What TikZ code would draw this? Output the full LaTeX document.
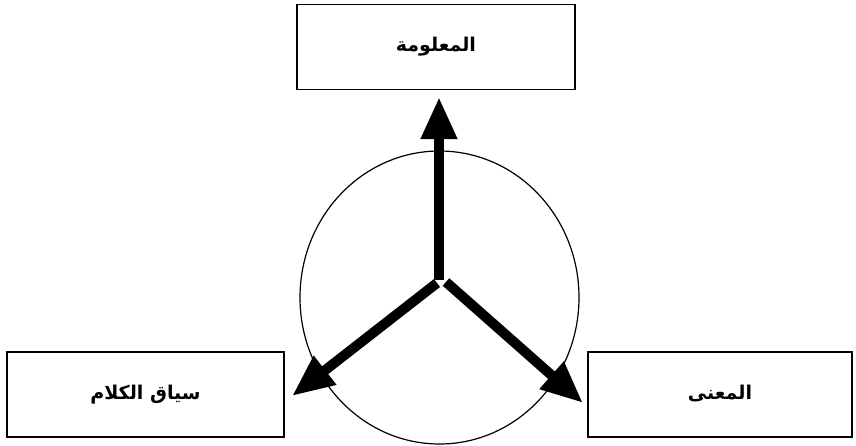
\documentclass[tikz,border=0pt]{standalone}
\usepackage{fontspec}
\TeXXeTstate=1
\newfontfamily\arabicfont[Script=Arabic]{DejaVu Sans}
\usetikzlibrary{arrows.meta}
\begin{document}
\begin{tikzpicture}[x=1pt,y=-1pt,
  labelbox/.style={draw, line width=1.8pt, minimum width=#1, minimum height=85pt, inner sep=0pt, font=\arabicfont\bfseries\fontsize{19}{22}\selectfont},
  bigarrow/.style={line width=10pt, -{Triangle[length=42pt,width=34pt]}}]
\useasboundingbox (0,0) rectangle (856,445);
\fill[white] (0,0) rectangle (856,445);
\node[labelbox=278pt] (info) at (436,47) {\raisebox{5pt}{\beginR المعلومة\endR}};
\node[labelbox=277pt] (ctx) at (145.5,394.5) {\raisebox{5pt}{\beginR سياق الكلام\endR}};
\node[labelbox=264pt] (mean) at (720,394.5) {\raisebox{5pt}{\beginR المعنى\endR}};
\draw[line width=1.2pt] (439.5,297.5) ellipse [x radius=139.5pt, y radius=146.5pt];
\coordinate (hubU) at (439,280);
\coordinate (hubL) at (437,283);
\coordinate (hubR) at (446,282);
\coordinate (tipU) at (439,97);
\coordinate (tipL) at (292,396);
\coordinate (tipR) at (583,403);
\draw[bigarrow] (hubU) -- (tipU);
\draw[bigarrow] (hubL) -- (tipL);
\draw[bigarrow] (hubR) -- (tipR);
\end{tikzpicture}
\end{document}
